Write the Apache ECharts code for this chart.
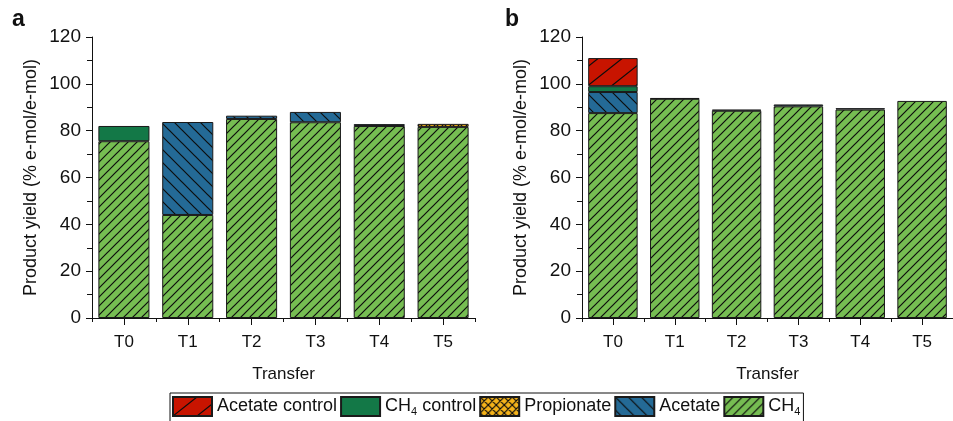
<!DOCTYPE html>
<html><head><meta charset="utf-8">
<script src="https://cdn.jsdelivr.net/npm/echarts@6/dist/echarts.min.js"></script>
<style>html,body{margin:0;padding:0;background:#fff}#c{width:953px;height:421px}</style>
</head><body><div id="c"></div>
<script>
const categories = ['T0','T1','T2','T3','T4','T5'];
const yTicks = [0,20,40,60,80,100,120];
// panel a
const a_CH4            = [75.5, 44.0, 85.0, 83.6, 82.0, 81.6];
const a_Acetate        = [0, 39.7, 1.4, 4.4, 0.8, 0];
const a_Propionate     = [0, 0, 0, 0, 0, 1.3];
const a_CH4control     = [6.5, 0, 0, 0, 0, 0];
const a_AcetateControl = [0, 0, 0, 0, 0, 0];
// panel b
const b_CH4            = [87.5, 93.6, 88.5, 90.4, 89.0, 92.7];
const b_Acetate        = [9.0, 0.3, 0.5, 0.8, 0.6, 0];
const b_Propionate     = [0, 0, 0, 0, 0, 0];
const b_CH4control     = [2.5, 0, 0, 0, 0, 0];
const b_AcetateControl = [12.0, 0, 0, 0, 0, 0];

const seriesNames = ['CH4','Acetate','Propionate','CH4 control','Acetate control'];
const legendOrder = ['Acetate control','CH4 control','Propionate','Acetate','CH4'];

function pattern(bg, w, h, dir){
  const c = document.createElement('canvas');
  c.width = w; c.height = h;
  const g = c.getContext('2d');
  g.fillStyle = bg; g.fillRect(0,0,w,h);
  g.strokeStyle = '#0d0d0d'; g.lineWidth = 1.2;
  g.beginPath();
  function fw(){ g.moveTo(-w,2*h); g.lineTo(2*w,-h); g.moveTo(-2*w,2*h); g.lineTo(w,-h); g.moveTo(0,2*h); g.lineTo(3*w,-h); }
  function bw(){ g.moveTo(-w,-h); g.lineTo(2*w,2*h); g.moveTo(-2*w,-h); g.lineTo(w,2*h); g.moveTo(0,-h); g.lineTo(3*w,2*h); }
  if(dir==='/'||dir==='x') fw();
  if(dir==='\\'||dir==='x') bw();
  g.stroke();
  return {image: c, repeat: 'repeat'};
}
const styles = {
  'CH4':            pattern('#76bd52', 9, 9, '/'),
  'Acetate':        pattern('#246a96', 13, 13, '\\'),
  'Propionate':     pattern('#f5b31a', 8, 8, 'x'),
  'CH4 control':    '#137847',
  'Acetate control':pattern('#c81400', 24, 19, '/')
};
const dataA = {'CH4':a_CH4,'Acetate':a_Acetate,'Propionate':a_Propionate,'CH4 control':a_CH4control,'Acetate control':a_AcetateControl};
const dataB = {'CH4':b_CH4,'Acetate':b_Acetate,'Propionate':b_Propionate,'CH4 control':b_CH4control,'Acetate control':b_AcetateControl};

const font = 'Liberation Sans, Arial, sans-serif';
function yAxis(i){
  return {gridIndex:i, type:'value', min:0, max:120, interval:20,
    name:'Product yield (% e-mol/e-mol)', nameLocation:'middle', nameGap:52,
    nameTextStyle:{fontFamily:font, fontSize:18, color:'#111'},
    axisLine:{show:true, lineStyle:{color:'#111', width:1}},
    axisTick:{show:true, length:6, lineStyle:{color:'#111'}},
    minorTick:{show:true, splitNumber:2, length:5, lineStyle:{color:'#111'}},
    splitLine:{show:false},
    axisLabel:{fontFamily:font, fontSize:19, color:'#111', margin:11}};
}
function xAxis(i){
  return {gridIndex:i, type:'category', data:categories,
    name:'Transfer', nameLocation:'middle', nameGap:48,
    nameTextStyle:{fontFamily:font, fontSize:17, color:'#111'},
    axisLine:{show:true, lineStyle:{color:'#111'}},
    axisTick:{show:true, alignWithLabel:true, length:7, lineStyle:{color:'#111'}},
    axisLabel:{fontFamily:font, fontSize:17, color:'#111', margin:16}};
}
function xAxisMinor(i){
  return {gridIndex:i, type:'category', data:categories, position:'bottom',
    axisLine:{show:false}, axisTick:{show:true, length:4, lineStyle:{color:'#111'}},
    axisLabel:{show:false}};
}
const series = [];
[dataA, dataB].forEach((d, gi) => {
  seriesNames.forEach(n => {
    series.push({name:n, type:'bar', stack:'s'+gi, xAxisIndex:gi*2, yAxisIndex:gi,
      barWidth:'80%',
      itemStyle:{color:styles[n], borderColor:'#1a1a1a', borderWidth:1},
      data:d[n].map(v => v === 0 ? '-' : v)});
  });
});
const chart = echarts.init(document.getElementById('c'), null, {renderer:'canvas'});
chart.setOption({
  animation:false,
  grid:[{left:92, top:37, width:383, height:281},
        {left:582, top:37, width:380, height:281}],
  xAxis:[xAxis(0), xAxisMinor(0), xAxis(1), xAxisMinor(1)],
  yAxis:[yAxis(0), yAxis(1)],
  legend:{data:legendOrder, left:170, top:393, orient:'horizontal', icon:'rect',
    itemWidth:39, itemHeight:19, itemGap:3,
    padding:[3,3,4,2], borderColor:'#111', borderWidth:1,
    textStyle:{fontFamily:font, fontSize:18, color:'#111',
      rich:{n:{fontFamily:font, fontSize:18, color:'#111'},
            s:{fontFamily:font, fontSize:11, color:'#111', padding:[11,0,0,0]}}},
    formatter: name => name.startsWith('CH4') ? '{n|CH}{s|4}' + (name.length>3 ? '{n|' + name.slice(3) + '}' : '') : '{n|' + name + '}'},
  graphic:[
    {type:'text', left:12, top:8, style:{text:'a', font:'bold 23px '+font, fill:'#111'}},
    {type:'text', left:505, top:8, style:{text:'b', font:'bold 23px '+font, fill:'#111'}}
  ],
  series: series
});
</script></body></html>
